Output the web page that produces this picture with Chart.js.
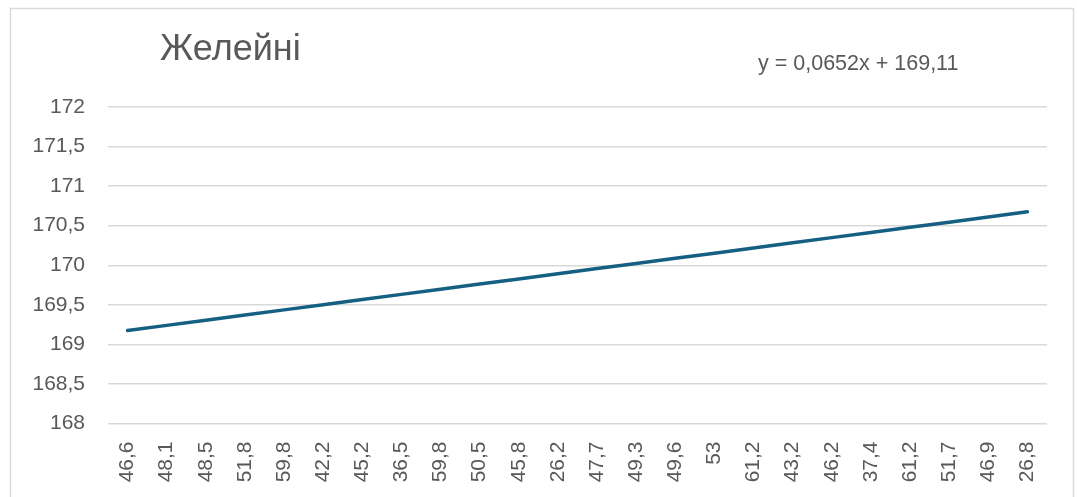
<!DOCTYPE html>
<html>
<head>
<meta charset="utf-8">
<script src="https://cdn.jsdelivr.net/npm/chart.js"></script>
<style>
  html, body { margin: 0; padding: 0; background: #fff; }
  #wrap { width: 1077px; height: 497px; }
</style>
</head>
<body>
<div id="wrap"><canvas id="chart" width="1077" height="497"></canvas></div>
<script>
// категорії (вага) і значення лінії тренду
const categories = ['46,6', '48,1', '48,5', '51,8', '59,8', '42,2', '45,2', '36,5', '59,8', '50,5', '45,8', '26,2',
  '47,7', '49,3', '49,6', '53', '61,2', '43,2', '46,2', '37,4', '61,2', '51,7', '46,9', '26,8']
const trendValues = [169.175, 169.240, 169.306, 169.371, 169.436, 169.501, 169.566, 169.632, 169.697, 169.762, 169.827, 169.892,
  169.958, 170.023, 170.088, 170.153, 170.218, 170.284, 170.349, 170.414, 170.479, 170.544, 170.610, 170.675]
const yTicks = [168, 168.5, 169, 169.5, 170, 170.5, 171, 171.5, 172]
const chartTitle = 'Желейні'
const equationText = 'y = 0,0652x + 169,11'

const FONT = '"Liberation Sans", Arial, sans-serif'
const GREY = '#595959'

// рамка, заголовок і рівняння
const decor = {
  id: 'decor',
  beforeDraw (chart) {
    const ctx = chart.ctx
    ctx.save()
    ctx.fillStyle = '#fff'
    ctx.fillRect(0, 0, chart.width, chart.height)
    ctx.strokeStyle = '#d9d9d9'
    ctx.lineWidth = 1.5
    ctx.strokeRect(10.5, 8.5, 1063, 540)
    ctx.restore()
  },
  afterDraw (chart) {
    const ctx = chart.ctx
    ctx.save()
    ctx.fillStyle = GREY
    ctx.textBaseline = 'alphabetic'
    ctx.font = '36px ' + FONT
    ctx.fillText(chartTitle, 160, 60)
    ctx.font = '21.5px ' + FONT
    ctx.fillText(equationText, 758, 70)
    ctx.restore()
  }
}

new Chart(document.getElementById('chart'), {
  type: 'line',
  data: {
    labels: categories,
    datasets: [{
      data: trendValues,
      borderColor: '#156082',
      borderWidth: 3.5,
      borderCapStyle: 'round',
      pointRadius: 0,
      fill: false,
      tension: 0
    }]
  },
  options: {
    responsive: false,
    animation: false,
    layout: { padding: { top: 107, right: 30, left: 0, bottom: 0 } },
    plugins: { legend: { display: false }, tooltip: { enabled: false } },
    scales: {
      x: {
        offset: true,
        grid: { display: false, drawTicks: false },
        border: { display: false },
        ticks: {
          autoSkip: false,
          minRotation: 90,
          maxRotation: 90,
          padding: 18,
          color: GREY,
          font: { family: FONT, size: 21 }
        },
        afterFit (scale) { scale.height = 73.5 }
      },
      y: {
        min: 168,
        max: 172,
        afterBuildTicks (scale) { scale.ticks = yTicks.map(v => ({ value: v })) },
        grid: { color: '#d9d9d9', lineWidth: 1.5, drawTicks: false },
        border: { display: false },
        ticks: {
          padding: 23,
          color: GREY,
          font: { family: FONT, size: 21 },
          callback: v => String(v).replace('.', ',')
        },
        afterFit (scale) { scale.width = 108 }
      }
    }
  },
  plugins: [decor]
})
</script>
</body>
</html>
